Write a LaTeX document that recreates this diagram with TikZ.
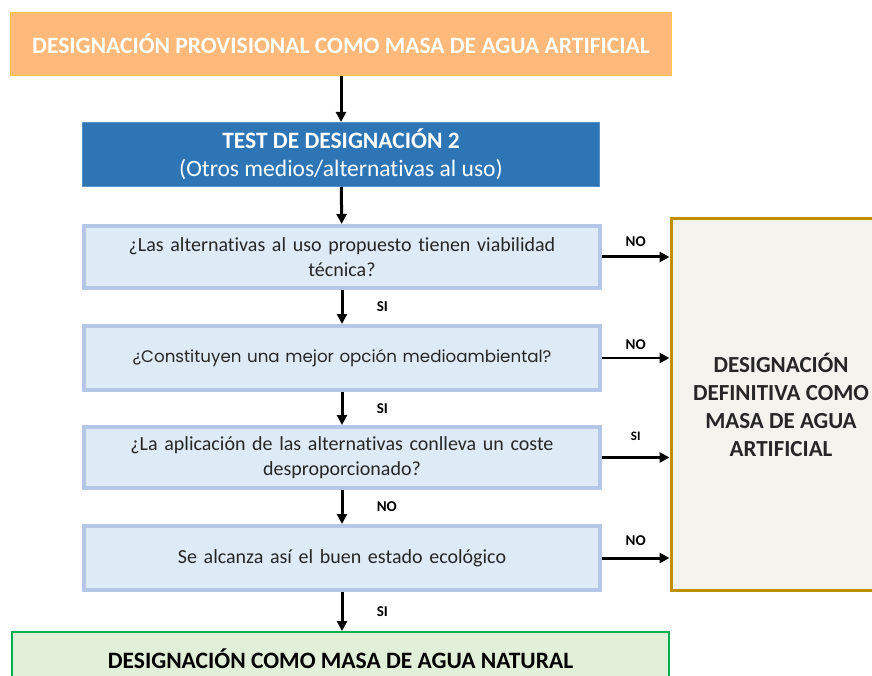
\documentclass[tikz,border=0pt]{standalone}
\usepackage{fontspec}
\setmainfont[Ligatures=CommonOff]{Carlito}
\newfontfamily\gothfont{Poppins}
\usepackage{xcolor}
\usetikzlibrary{positioning,arrows.meta,calc}

\definecolor{provfill}{HTML}{FFB97A}
\definecolor{provline}{HTML}{FFC84A}
\definecolor{testfill}{HTML}{2E75B6}
\definecolor{qfill}{HTML}{DEEBF7}
\definecolor{qline}{HTML}{B4C7E7}
\definecolor{natfill}{HTML}{E2F0D9}
\definecolor{natline}{HTML}{00B050}
\definecolor{deffill}{HTML}{F4F3EE}
\definecolor{defline}{HTML}{BF9000}
\definecolor{qtext}{HTML}{262626}

\tikzset{
  qbox/.style={draw=qline, line width=4pt, fill=qfill, minimum width=516pt,
    text width=490pt, align=center, text=qtext, font=\fontsize{20}{25}\selectfont},
  flow/.style={-{Triangle[length=10pt,width=10pt]}, line width=3pt},
  ans/.style={font=\bfseries\fontsize{15}{17}\selectfont, text=black}
}

\begin{document}
\begin{tikzpicture}[x=1pt, y=-1pt]
\clip (0,0) rectangle (872,676);
\fill[white] (0,0) rectangle (872,676);
% header boxes
\node[draw=provline, line width=1pt, fill=provfill, minimum width=661pt, minimum height=63pt,
  text=white, font=\bfseries\fontsize{23.5}{26}\selectfont] (prov) at (341,44)
  {DESIGNACIÓN PROVISIONAL COMO MASA DE AGUA ARTIFICIAL};
\node[draw=testfill!80!white, line width=1pt, fill=testfill, minimum width=517pt, minimum height=64pt,
  text=white, align=center, font=\fontsize{23.5}{28}\selectfont] (test) at (341,154.5)
  {\textbf{TEST DE DESIGNACIÓN 2}\\(Otros medios/alternativas al uso)};
% questions
\node[qbox, minimum height=62pt] (q1) at (342,257)
  {¿Las alternativas al uso propuesto tienen viabilidad\\técnica?};
\node[qbox, minimum height=64pt, font=\gothfont\fontsize{16.7}{20}\selectfont] (q2) at (342,358)
  {¿Constituyen una mejor opción medioambiental?};
\node[qbox, minimum height=61pt] (q3) at (342,457.5)
  {¿La aplicación de las alternativas conlleva un coste\\desproporcionado?};
\node[qbox, minimum height=64pt] (q4) at (342,558)
  {Se alcanza así el buen estado ecológico};
% outcomes
\node[draw=natline, line width=2pt, fill=natfill, minimum width=657pt, minimum height=54pt,
  anchor=north west, font=\bfseries\fontsize{23.5}{26}\selectfont, text=black] (nat) at (11,631)
  {DESIGNACIÓN COMO MASA DE AGUA NATURAL};
\node[draw=defline, line width=3pt, fill=deffill, minimum width=220pt, minimum height=371pt,
  align=center, text=qtext, font=\bfseries\fontsize{23}{28}\selectfont] (defin) at (781,404.5)
  {DESIGNACIÓN\\DEFINITIVA COMO\\MASA DE AGUA\\ARTIFICIAL};
% vertical flow
\draw[flow] (prov) -- (test);
\draw[flow] (test) -- (q1);
\draw[flow] (q1) -- node[ans, right=30pt] {SI} (q2);
\draw[flow] (q2) -- node[ans, right=30pt] {SI} (q3);
\draw[flow] (q3) -- node[ans, right=30pt] {NO} (q4);
\draw[flow] (q4.south) -- node[ans, right=30pt] {SI} (q4.south |- nat.north);
% exits to the right
\draw[flow] (q1.east) -- node[ans, above=6pt] {NO} (q1.east -| defin.west);
\draw[flow, line width=2pt] (q2.east) -- node[ans, above=4pt] {NO} (q2.east -| defin.west);
\draw[flow] (q3.east) -- node[ans, above=12pt, font=\bfseries\fontsize{13}{15}\selectfont] {SI} (q3.east -| defin.west);
\draw[flow] (q4.east) -- node[ans, above=8pt] {NO} (q4.east -| defin.west);
\end{tikzpicture}
\end{document}
